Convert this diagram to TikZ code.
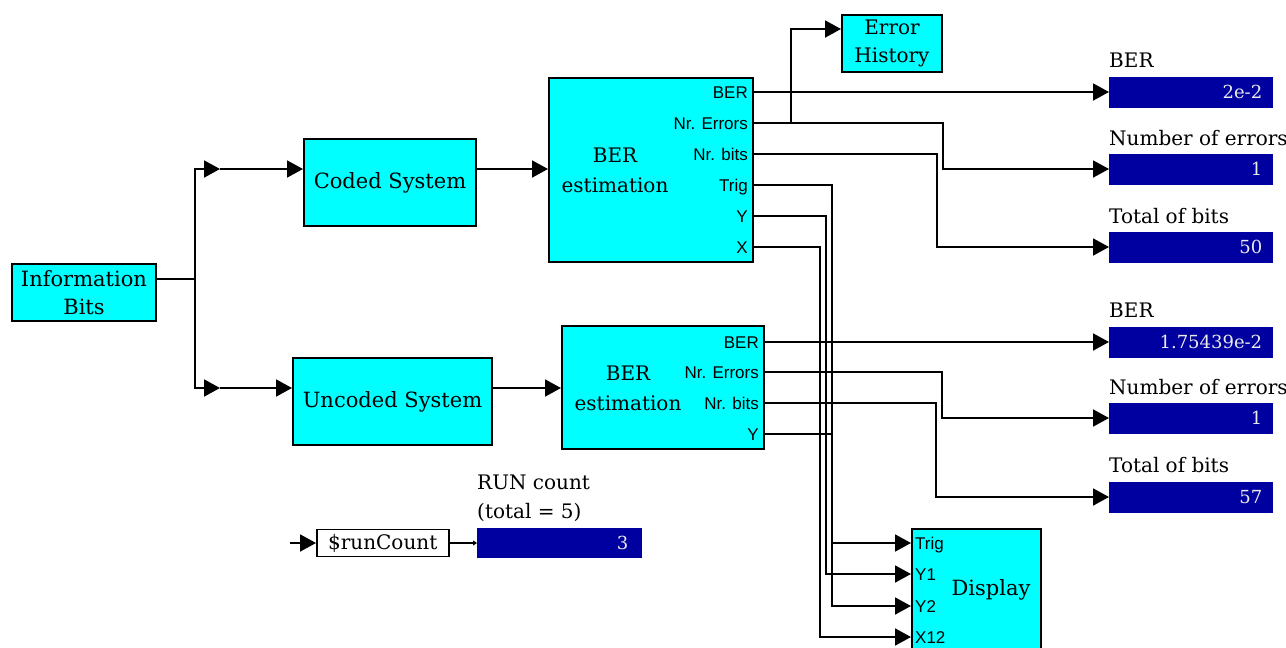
\documentclass[tikz,border=0pt]{standalone}
\usepackage{fontspec}
\setmainfont{DejaVu Serif}
\newfontfamily\portsans{Liberation Sans}
\usetikzlibrary{arrows.meta}
\definecolor{cyanfill}{RGB}{0,255,255}
\definecolor{navybox}{RGB}{0,0,160}
\definecolor{valtext}{RGB}{235,235,235}
\newcommand\fsz[2]{\fontsize{#1}{#2}\selectfont}
\begin{document}
\begin{tikzpicture}[x=1pt,y=-1pt,
  blk/.style={draw=black,line width=2pt,fill=cyanfill,inner sep=0pt,anchor=north west,align=center},
  dbox/.style={draw=none,fill=navybox,inner sep=0pt,anchor=west,minimum width=164pt,minimum height=31pt,text width=142pt,align=right,text=valtext,font=\fsz{18}{20}},
  lbl/.style={inner sep=0pt,anchor=base west,font=\fsz{20}{24}},
  port/.style={inner sep=0pt,anchor=base east,font=\portsans\fsz{17}{17}},
  dport/.style={inner sep=0pt,anchor=base west,font=\portsans\fsz{17}{17}},
  wire/.style={draw=black,line width=1.9pt},
  arr/.style={wire,-{Triangle[length=16pt,width=17pt]}},
  smallarr/.style={wire,line width=1.3pt,-{Triangle[length=4pt,width=5pt]}},
]
\useasboundingbox (0,0) rectangle (1286,648);

% ---------- blocks ----------
\node[blk,minimum width=144pt,minimum height=57pt,font=\fsz{21}{28}] (info) at (11,263) {Information\\Bits};
\node[blk,minimum width=172pt,minimum height=87pt,font=\fsz{21}{26}] (coded) at (303,138) {Coded System};
\node[blk,minimum width=199pt,minimum height=87pt,font=\fsz{21}{26}] (uncoded) at (292,357) {Uncoded System};
\node[blk,minimum width=204pt,minimum height=184pt] (est1) at (548,77) {};
\node[inner sep=0pt,align=center,font=\fsz{20}{30}] (est1lbl) at (615,170) {BER\\estimation};
\node[blk,minimum width=202pt,minimum height=123pt] (est2) at (561,325) {};
\node[inner sep=0pt,align=center,font=\fsz{20}{30}] (est2lbl) at (628,388) {BER\\estimation};
\node[blk,minimum width=100pt,minimum height=57pt,font=\fsz{20}{28}] (errhist) at (841,14) {Error\\History};
\node[blk,minimum width=129pt,minimum height=150pt] (display) at (911,528) {};
\node[inner sep=0pt,font=\fsz{21}{26}] (displbl) at (991,590) {Display};

% ---------- port labels ----------
\node[port] (p1ber) at (748,98) {BER};
\node[port] (p1nre) at (748,129) {Nr. Errors};
\node[port] (p1nrb) at (748,160) {Nr. bits};
\node[port] (p1trig) at (748,191) {Trig};
\node[port] (p1y) at (748,222) {Y};
\node[port] (p1x) at (748,253) {X};
\node[port] (p2ber) at (759,348) {BER};
\node[port] (p2nre) at (759,378) {Nr. Errors};
\node[port] (p2nrb) at (759,409) {Nr. bits};
\node[port] (p2y) at (759,440) {Y};
\node[dport] (dtrig) at (915,549) {Trig};
\node[dport] (dy1) at (915,580) {Y1};
\node[dport] (dy2) at (915,612) {Y2};
\node[dport] (dx12) at (915,643) {X12};

% ---------- output displays ----------
\node[lbl] (l1) at (1109,67) {BER};
\node[dbox] (d1) at (1109,92) {2e-2};
\node[lbl] (l2) at (1109,145) {Number of errors};
\node[dbox] (d2) at (1109,169) {1};
\node[lbl] (l3) at (1109,223) {Total of bits};
\node[dbox] (d3) at (1109,247) {50};
\node[lbl] (l4) at (1109,317) {BER};
\node[dbox] (d4) at (1109,342) {1.75439e-2};
\node[lbl] (l5) at (1109,394) {Number of errors};
\node[dbox] (d5) at (1109,418) {1};
\node[lbl] (l6) at (1109,472) {Total of bits};
\node[dbox] (d6) at (1109,497) {57};

% ---------- run count ----------
\node[draw=black,line width=1.5pt,fill=white,inner sep=0pt,anchor=west,minimum width=132pt,minimum height=27pt,font=\fsz{20}{24}] (rc) at (316,543) {\$runCount};
\node[dbox,minimum width=165pt,minimum height=30pt,text width=137pt] (rcval) at (477,543) {3};
\node[lbl] (rclbl1) at (477,489) {RUN count};
\node[lbl] (rclbl2) at (477,518) {(total = 5)};
\coordinate (rcin) at (290,543);

% ---------- coordinates ----------
\coordinate (j) at (195,279);
\coordinate (m1) at (220,169);
\coordinate (m2) at (220,388);
\coordinate (e1ber) at (752,92);
\coordinate (e1nre) at (752,123);
\coordinate (e1nrb) at (752,154);
\coordinate (e1trig) at (752,185);
\coordinate (e1y) at (752,216);
\coordinate (e1x) at (752,247);
\coordinate (e2ber) at (763,342);
\coordinate (e2nre) at (763,372);
\coordinate (e2nrb) at (763,403);
\coordinate (e2y) at (763,434);
\coordinate (tap) at (791,123);
\coordinate (ehin) at (841,29);
\coordinate (intrig) at (911,543);
\coordinate (iny1) at (911,574);
\coordinate (iny2) at (911,606);
\coordinate (inx12) at (911,637);

% ---------- wires ----------
\draw[wire] (info.east |- j) -- (j);
\draw[arr] (j) |- (m1);
\draw[arr] (m1) -- (coded.west |- m1);
\draw[arr] (j) |- (m2);
\draw[arr] (m2) -- (uncoded.west |- m2);
\draw[arr] (coded.east |- m1) -- (est1.west |- m1);
\draw[arr] (uncoded.east |- m2) -- (est2.west |- m2);

\draw[arr] (e1ber) -- (d1.west);
\draw[arr] (e1nre) -- (943,123) -- (943,169) -- (d2.west);
\draw[arr] (tap) |- (ehin);
\draw[arr] (e1nrb) -- (937,154) -- (937,247) -- (d3.west);
\draw[arr] (e1trig) -| (832,543) -- (intrig);
\draw[arr] (e1y) -| (826,574) -- (iny1);
\draw[arr] (e1x) -| (820,637) -- (inx12);

\draw[arr] (e2ber) -- (d4.west);
\draw[arr] (e2nre) -- (942,372) -- (942,418) -- (d5.west);
\draw[arr] (e2nrb) -- (936,403) -- (936,497) -- (d6.west);
\draw[arr] (e2y) -| (832,606) -- (iny2);

\draw[arr] (rcin) -- (rc.west);
\draw[smallarr] (rc.east) -- (rcval.west);
\end{tikzpicture}
\end{document}
